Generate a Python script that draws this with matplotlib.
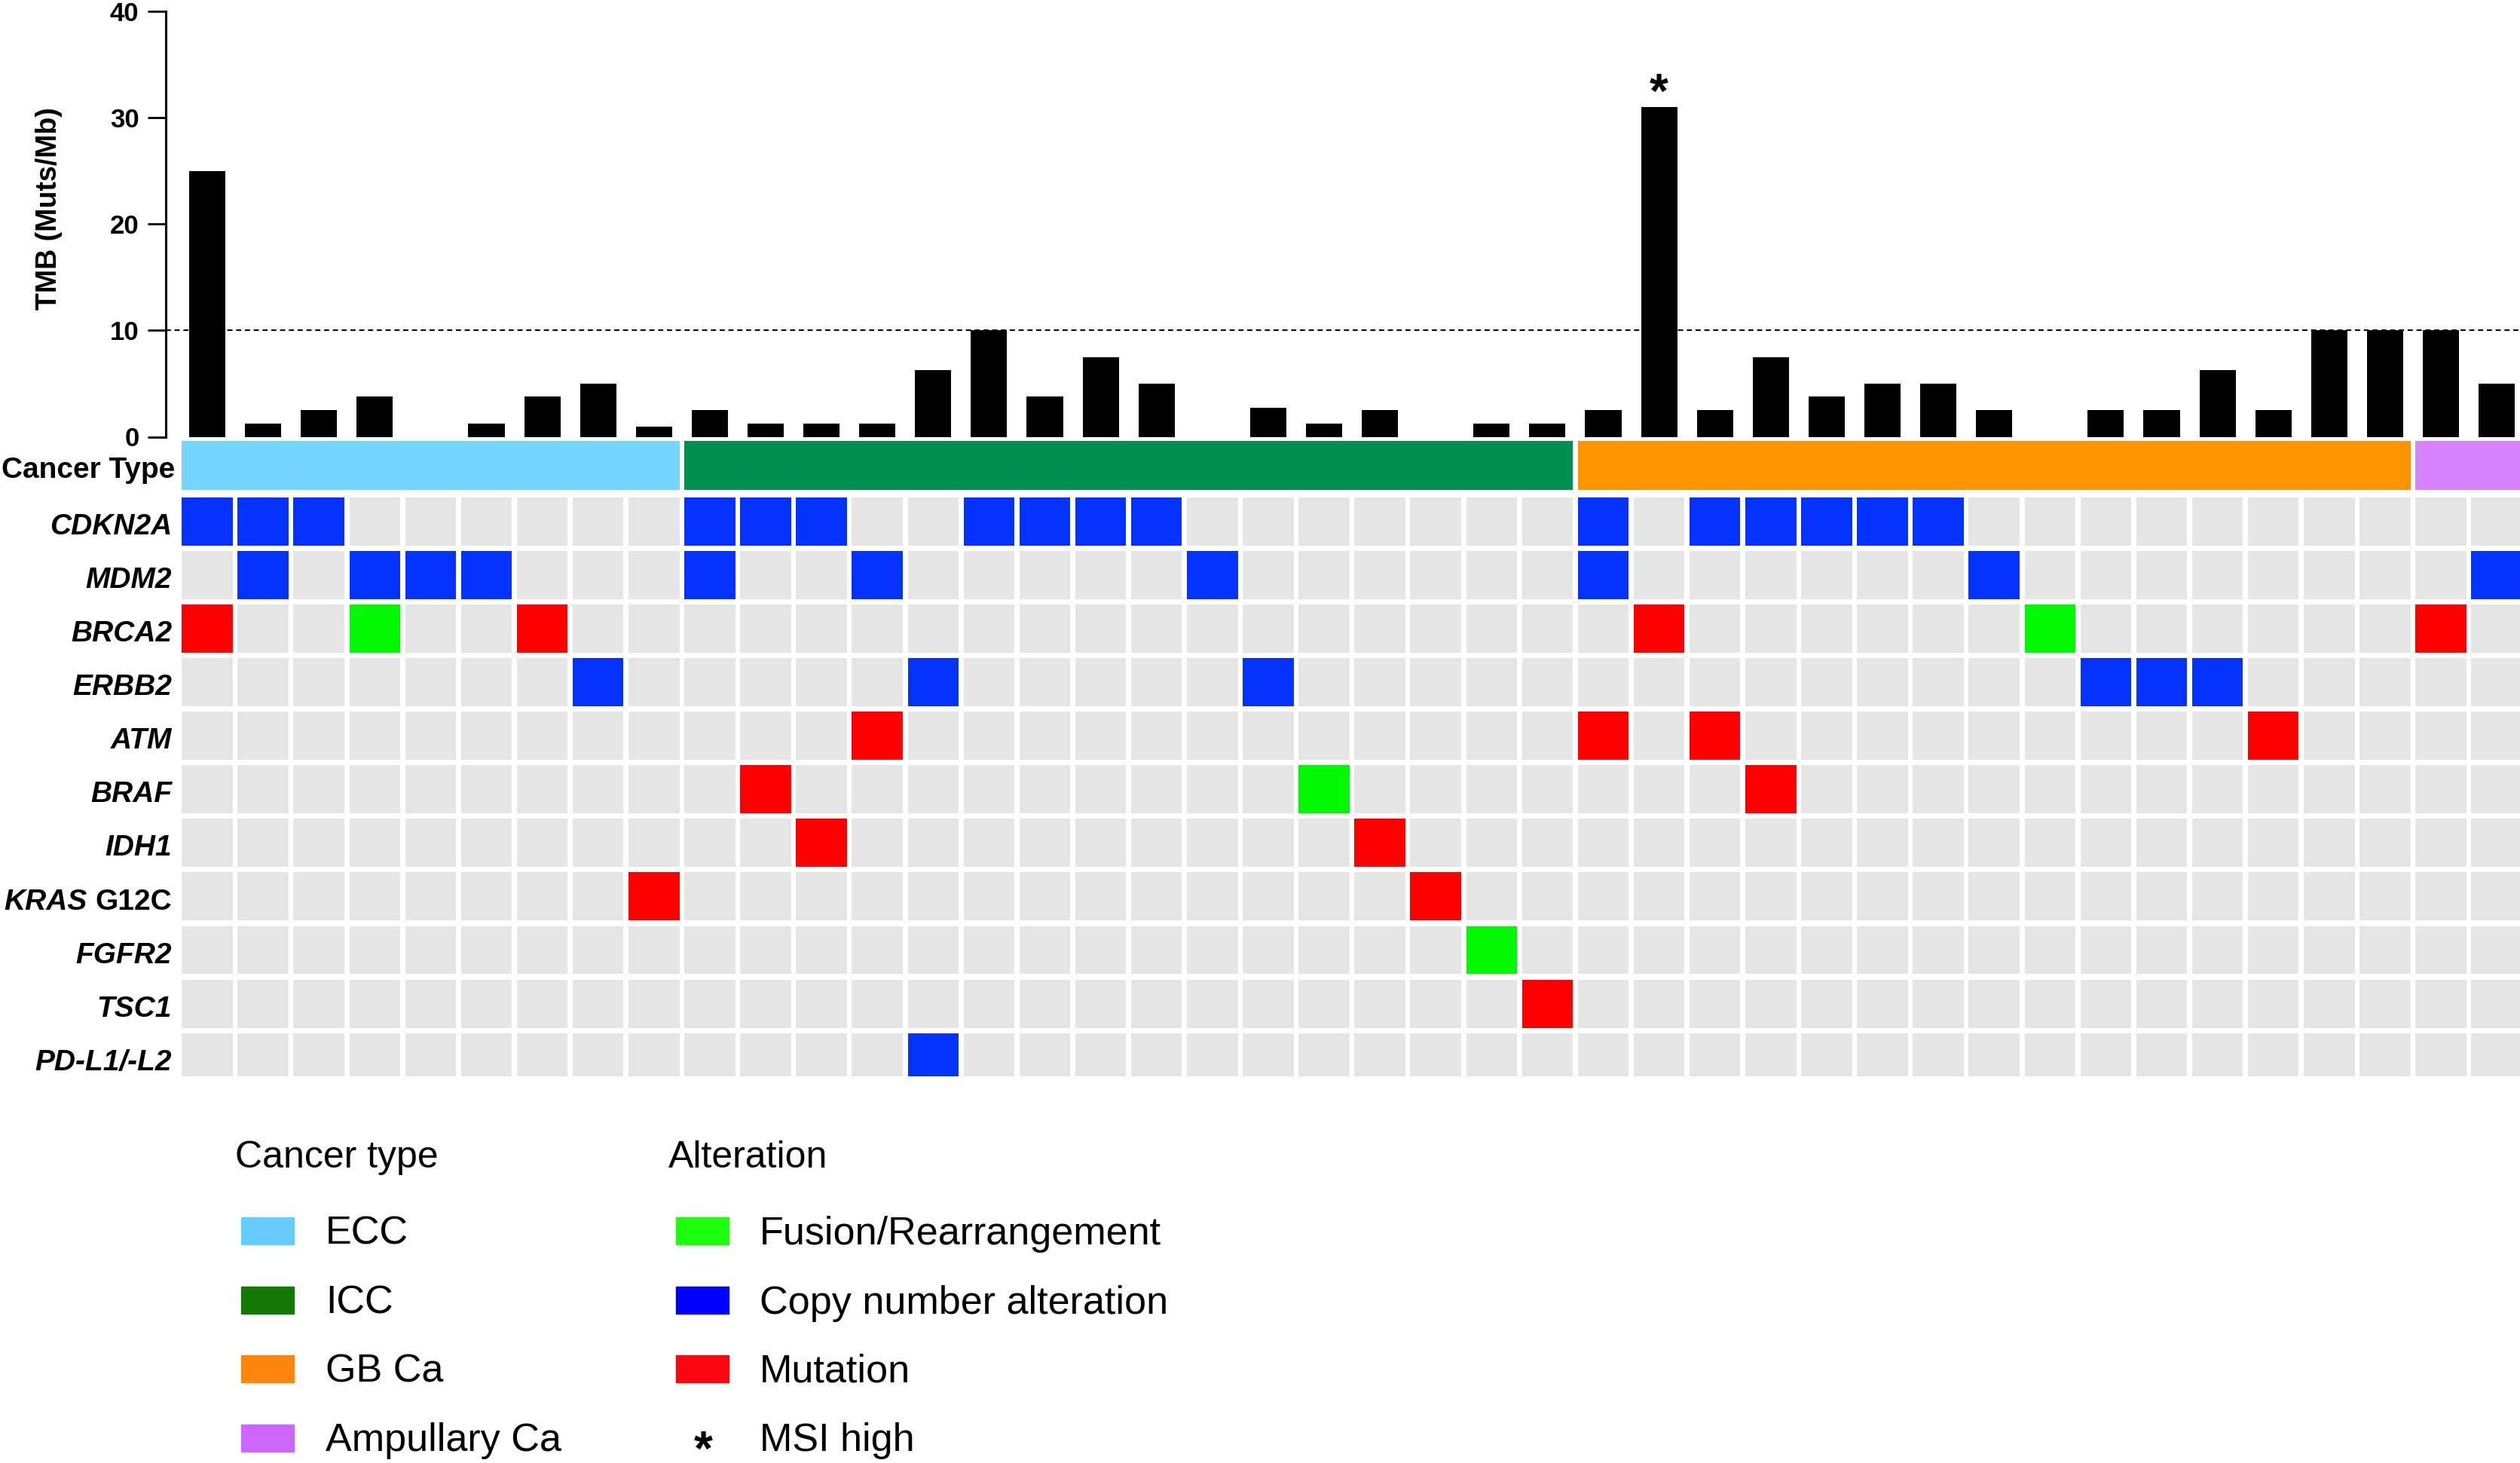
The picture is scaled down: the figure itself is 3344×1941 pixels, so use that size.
import matplotlib
matplotlib.use('Agg')
import matplotlib.pyplot as plt
from matplotlib.patches import Rectangle

plt.rcParams['font.family'] = ['Liberation Sans', 'DejaVu Sans']

W, H = 3344, 1941

# samples grouped by cancer type
cancer_types = ['ECC', 'ICC', 'GB Ca', 'Ampullary Ca']
type_counts = [9, 16, 15, 2]
type_colors = ['#76D6FF', '#008F51', '#FF9300', '#D783FF']
legend_type_colors = ['#66CCFF', '#137A06', '#FF850C', '#CC66FF']

# TMB per sample (Muts/Mb)
tmb = [25, 1.26, 2.5, 3.8, 0, 1.26, 3.8, 5, 0.95,
       2.5, 1.26, 1.26, 1.26, 6.3, 10, 3.8, 7.5, 5, 0, 2.7, 1.26, 2.5, 0, 1.26, 1.26,
       2.5, 31, 2.5, 7.5, 3.8, 5, 5, 2.5, 0, 2.5, 2.5, 6.3, 2.5, 10, 10,
       10, 5]
msi_high = [26]
tmb_cut = 10

genes = ['CDKN2A', 'MDM2', 'BRCA2', 'ERBB2', 'ATM', 'BRAF', 'IDH1',
         'KRAS G12C', 'FGFR2', 'TSC1', 'PD-L1/-L2']

# sample indices per gene and alteration type
fusion = {'BRCA2': [3, 33], 'BRAF': [20], 'FGFR2': [23]}
cna = {'CDKN2A': [0, 1, 2, 9, 10, 11, 14, 15, 16, 17, 25, 27, 28, 29, 30, 31],
       'MDM2': [1, 3, 4, 5, 9, 12, 18, 25, 32, 41],
       'ERBB2': [7, 13, 19, 34, 35, 36],
       'PD-L1/-L2': [13]}
mutation = {'BRCA2': [0, 6, 26, 40], 'ATM': [12, 25, 27, 37], 'BRAF': [10, 28],
            'IDH1': [11, 21], 'KRAS G12C': [8, 22], 'TSC1': [24]}

alt_names = ['Fusion/Rearrangement', 'Copy number alteration', 'Mutation']
alt_colors = ['#00F900', '#0433FF', '#FF0000']
legend_alt_colors = ['#1EFF0E', '#0000FF', '#FF0510']
empty_color = '#E6E5E5'

n = len(tmb)

fig = plt.figure(figsize=(W / 100, H / 100), dpi=100)


def box(l, t, r, b):
    return [l / W, 1 - b / H, (r - l) / W, (b - t) / H]


# legend canvas in pixel coords
axl = fig.add_axes([0, 0, 1, 1])
axl.set_xlim(0, W)
axl.set_ylim(H, 0)
axl.axis('off')

x0 = 275.0
pitch = 74.1
xlim = ((220 - x0) / pitch, (W - x0) / pitch)

# TMB bars
axb = fig.add_axes(box(220, 14.7, W, 579.5))
axb.bar(range(n), tmb, width=0.65, color='black')
axb.axhline(tmb_cut, color='black', lw=1.4, dashes=(3.5, 2.5))
for i in msi_high:
    axb.annotate('*', xy=(i, tmb[i]), xytext=(0, -0.8), textcoords='offset points',
                 ha='center', va='baseline', fontsize=46, fontweight='bold')
axb.set_xlim(xlim)
axb.set_ylim(0, 40)
axb.set_yticks([0, 10, 20, 30, 40])
axb.set_xticks([])
for s in ['top', 'right', 'bottom']:
    axb.spines[s].set_visible(False)
axb.spines['left'].set_linewidth(2.2)
axb.tick_params(axis='y', length=17.6, width=2.0, labelsize=25, pad=8)
for lbl in axb.get_yticklabels():
    lbl.set_fontweight('bold')
axb.text(-0.0496, 0.5356, 'TMB (Muts/Mb)', transform=axb.transAxes, rotation=90,
         ha='center', va='center', fontsize=27, fontweight='bold')
axb.patch.set_alpha(0)

# oncoprint
axh = fig.add_axes(box(220, 584, W, 1428))
axh.set_xlim(xlim)
axh.set_ylim(10.357, -1.52)
axh.axis('off')

start = 0
for name, cnt, col in zip(cancer_types, type_counts, type_colors):
    axh.barh(-1.055, cnt - 1 + 0.91, left=start - 0.455, height=0.915, color=col)
    start += cnt

label_x = (228 - x0) / pitch
dy = 0.1
for r, g in enumerate(genes):
    colors = [empty_color] * n
    for code, d in enumerate([fusion, cna, mutation]):
        for i in d.get(g, []):
            colors[i] = alt_colors[code]
    axh.bar(range(n), 0.9, bottom=r - 0.45, width=0.91, color=colors)
    if g == 'KRAS G12C':
        t = axh.text(label_x, r + dy, 'G12C', ha='right', va='center', fontsize=28,
                     fontweight='bold')
        axh.annotate('KRAS', xy=(0, 0.5), xycoords=t, xytext=(-8, 0),
                     textcoords='offset points', ha='right', va='center',
                     fontsize=28, fontweight='bold', fontstyle='italic')
    else:
        axh.text(label_x, r + dy, g, ha='right', va='center', fontsize=28,
                 fontweight='bold', fontstyle='italic')
axh.text((232 - x0) / pitch, -1.055 + dy, 'Cancer Type', ha='right', va='center',
         fontsize=28, fontweight='bold')

# legends
row_y = [1633, 1725, 1816, 1908]
axl.text(312, 1536, 'Cancer type', ha='left', va='center', fontsize=36)
for y, name, col in zip(row_y, cancer_types, legend_type_colors):
    axl.add_patch(Rectangle((320, y - 18), 70, 36, color=col))
    axl.text(432, y + 4, name, ha='left', va='center', fontsize=37.5)

axl.text(887, 1536, 'Alteration', ha='left', va='center', fontsize=36)
for y, name, col in zip(row_y, alt_names, legend_alt_colors):
    axl.add_patch(Rectangle((897, y - 18), 70, 36, color=col))
    axl.text(1008, y + 4, name, ha='left', va='center', fontsize=37.5)
axl.text(933, 1944, '*', ha='center', va='baseline', fontsize=46, fontweight='bold')
axl.text(1008, row_y[3] + 4, 'MSI high', ha='left', va='center', fontsize=37.5)

fig.savefig('out.png', dpi=100)
